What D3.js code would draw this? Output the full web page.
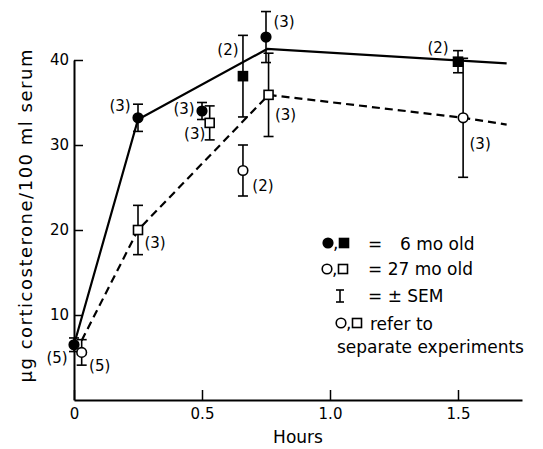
<!DOCTYPE html>
<meta charset="utf-8" />
<style>
  body { margin: 0; background: #fff; }
  text { font-family: "DejaVu Sans", sans-serif; fill: #000; }
  .axis path, .axis line { stroke: #000; }
  .axis text { font-size: 15px; font-family: "DejaVu Sans", sans-serif; }
</style>
<body>
  <svg id="chart" width="543" height="449"></svg>
</body>
<script src="https://d3js.org/d3.v7.min.js"></script>
<script>
  // values: t = hours, v = mean, sem = +/- SEM, n = animals
  const youngCircles = [
    { t: 0, v: 6.5, sem: 0.8, n: 5 },
    { t: 0.25, v: 33.2, sem: 1.6, n: 3 },
    { t: 0.5, v: 34.0, sem: 1.0, n: 3 },
    { t: 0.75, v: 42.7, sem: 3.0, n: 3 },
  ];
  const youngSquares = [
    { t: 0.66, v: 38.1, sem: 4.8, n: 2 },
    { t: 1.5, v: 39.8, sem: 1.3, n: 2 },
  ];
  const oldCircles = [
    { t: 0.03, v: 5.6, sem: 1.5, n: 5 },
    { t: 0.66, v: 27.0, sem: 3.0, n: 2 },
    { t: 1.52, v: 33.2, sem: 7.0, n: 3 },
  ];
  const oldSquares = [
    { t: 0.25, v: 20.0, sem: 2.9, n: 3 },
    { t: 0.53, v: 32.6, sem: 2.0, n: 3 },
    { t: 0.76, v: 35.9, sem: 4.9, n: 3 },
  ];

  // hand-fitted curves drawn through the groups
  const youngCurve = [[0, 6.5], [0.25, 33.0], [0.755, 41.3], [1.69, 39.6]];
  const oldCurve = [[0.03, 7.0], [0.25, 20.0], [0.76, 35.9], [1.52, 33.2], [1.69, 32.4]];

  const xTicks = [0, 0.5, 1.0, 1.5];
  const yTicks = [10, 20, 30, 40];

  // where each "(n)" sits relative to its point (pixels), same order as the data
  const labelOffsets = {
    youngCircles: [[-17, 13], [-18, -12], [-18, -2], [18, -15]],
    youngSquares: [[-15, -26], [-20, -14]],
    oldCircles: [[18, 14], [20, 15], [17, 26]],
    oldSquares: [[17, 13], [-15, 11], [17, 20]],
  };

  const svg = d3.select("#chart");

  const x = d3.scaleLinear().domain([0, 1.75]).range([74, 522]);
  const y = d3.scaleLinear().domain([0, 40]).range([400, 60]);

  // axes, ticks point inward
  const xAxis = svg.append("g")
    .attr("class", "axis")
    .attr("transform", "translate(0,400)")
    .call(d3.axisBottom(x).tickValues(xTicks).tickSizeInner(-10).tickSizeOuter(0).tickPadding(8)
      .tickFormat((d) => (d === 0 ? "0" : d3.format(".1f")(d))));
  xAxis.select(".domain").attr("stroke-width", 2);
  xAxis.selectAll(".tick line").attr("stroke-width", 1.5);

  const yAxis = svg.append("g")
    .attr("class", "axis")
    .attr("transform", "translate(74,0)")
    .call(d3.axisLeft(y).tickValues(yTicks).tickSizeInner(-9).tickSizeOuter(0).tickPadding(5));
  yAxis.select(".domain").attr("stroke-width", 2);
  yAxis.selectAll(".tick line").attr("stroke-width", 1.5);

  svg.append("text")
    .attr("x", 298)
    .attr("y", 443)
    .attr("text-anchor", "middle")
    .style("font-size", "17px")
    .text("Hours");

  svg.append("text")
    .attr("transform", "translate(32," + 216 + ") rotate(-90)")
    .attr("text-anchor", "middle")
    .attr("textLength", 333)
    .attr("lengthAdjust", "spacing")
    .style("font-size", "18px")
    .text("μg corticosterone/100 ml serum");

  // fitted lines
  const line = d3.line().x((d) => x(d[0])).y((d) => y(d[1]));
  svg.append("path")
    .datum(youngCurve)
    .attr("d", line)
    .attr("fill", "none")
    .attr("stroke", "#000")
    .attr("stroke-width", 2.2);
  svg.append("path")
    .datum(oldCurve)
    .attr("d", line)
    .attr("fill", "none")
    .attr("stroke", "#000")
    .attr("stroke-width", 2.2)
    .attr("stroke-dasharray", "8,5");

  const groups = [
    { key: "youngCircles", data: youngCircles, shape: "circle", filled: true },
    { key: "youngSquares", data: youngSquares, shape: "square", filled: true },
    { key: "oldCircles", data: oldCircles, shape: "circle", filled: false },
    { key: "oldSquares", data: oldSquares, shape: "square", filled: false },
  ];

  // error bars first so markers sit on top
  groups.forEach((grp) => {
    const bars = svg.append("g").selectAll("g")
      .data(grp.data)
      .enter()
      .append("g")
      .attr("stroke", "#000")
      .attr("stroke-width", 1.6);
    bars.append("line")
      .attr("x1", (d) => x(d.t)).attr("x2", (d) => x(d.t))
      .attr("y1", (d) => y(d.v - d.sem)).attr("y2", (d) => y(d.v + d.sem));
    bars.append("line")
      .attr("x1", (d) => x(d.t) - 5).attr("x2", (d) => x(d.t) + 5)
      .attr("y1", (d) => y(d.v + d.sem)).attr("y2", (d) => y(d.v + d.sem));
    bars.append("line")
      .attr("x1", (d) => x(d.t) - 5).attr("x2", (d) => x(d.t) + 5)
      .attr("y1", (d) => y(d.v - d.sem)).attr("y2", (d) => y(d.v - d.sem));
  });

  function drawMarker(sel, shape, filled) {
    if (shape === "circle") {
      sel.append("circle").attr("r", 4.8);
    } else {
      sel.append("rect").attr("x", -4.5).attr("y", -4.5).attr("width", 9).attr("height", 9);
    }
    sel.selectAll("circle,rect")
      .attr("fill", filled ? "#000" : "#fff")
      .attr("stroke", "#000")
      .attr("stroke-width", 1.6);
  }

  groups.forEach((grp) => {
    const marks = svg.append("g").selectAll("g")
      .data(grp.data)
      .enter()
      .append("g")
      .attr("transform", (d) => "translate(" + x(d.t) + "," + y(d.v) + ")");
    drawMarker(marks, grp.shape, grp.filled);

    svg.append("g").selectAll("text")
      .data(grp.data)
      .enter()
      .append("text")
      .attr("x", (d, i) => x(d.t) + labelOffsets[grp.key][i][0])
      .attr("y", (d, i) => y(d.v) + labelOffsets[grp.key][i][1] + 5)
      .attr("text-anchor", "middle")
      .style("font-size", "15px")
      .text((d) => "(" + d.n + ")");
  });

  // legend
  const legend = svg.append("g").style("font-size", "17px");
  function legendPair(cx, cy, filled, gap) {
    const a = legend.append("g").attr("transform", "translate(" + cx + "," + cy + ")");
    drawMarker(a, "circle", filled);
    legend.append("text").attr("x", cx + 5).attr("y", cy + 6).text(",");
    const b = legend.append("g").attr("transform", "translate(" + (cx + gap) + "," + cy + ")");
    drawMarker(b, "square", filled);
  }
  legendPair(328, 243, true, 16);
  legend.append("text").attr("x", 368).attr("y", 250).text("=");
  legend.append("text").attr("x", 400).attr("y", 250).text("6 mo old");

  legendPair(327, 269, false, 16);
  legend.append("text").attr("x", 368).attr("y", 275).text("= 27 mo old");

  const sem = legend.append("g").attr("stroke", "#000").attr("stroke-width", 1.6);
  sem.append("line").attr("x1", 340).attr("x2", 340).attr("y1", 290).attr("y2", 302);
  sem.append("line").attr("x1", 336).attr("x2", 344).attr("y1", 290).attr("y2", 290);
  sem.append("line").attr("x1", 336).attr("x2", 344).attr("y1", 302).attr("y2", 302);
  legend.append("text").attr("x", 368).attr("y", 302).text("= ± SEM");

  legendPair(341, 323, false, 16);
  legend.append("text").attr("x", 370).attr("y", 330).text("refer to");
  legend.append("text").attr("x", 337).attr("y", 353).text("separate experiments");
</script>
